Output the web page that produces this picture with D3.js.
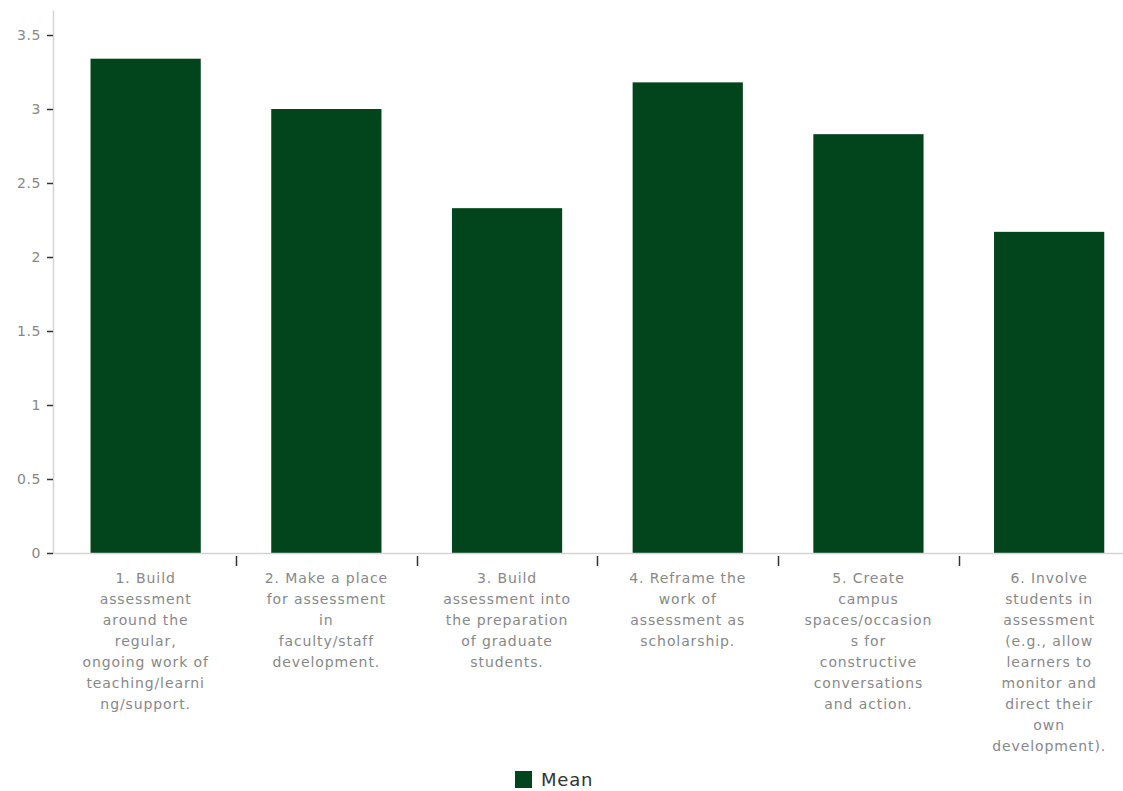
<!DOCTYPE html>
<meta charset="utf-8">
<script src="https://cdn.jsdelivr.net/npm/d3@7"></script>
<style>
  body { margin: 0; background: #fff; }
  text { font-family: "DejaVu Sans", sans-serif; }
</style>
<div id="vis"></div>
<script>
// chart values
const categories = [
  "1. Build assessment around the regular, ongoing work of teaching/learning/support.",
  "2. Make a place for assessment in faculty/staff development.",
  "3. Build assessment into the preparation of graduate students.",
  "4. Reframe the work of assessment as scholarship.",
  "5. Create campus spaces/occasions for constructive conversations and action.",
  "6. Involve students in assessment (e.g., allow learners to monitor and direct their own development)."
]
// wrapped label lines, as shown under each bar
const labelLines = [
  ["1. Build", "assessment", "around the", "regular,", "ongoing work of", "teaching/learni", "ng/support."],
  ["2. Make a place", "for assessment", "in", "faculty/staff", "development."],
  ["3. Build", "assessment into", "the preparation", "of graduate", "students."],
  ["4. Reframe the", "work of", "assessment as", "scholarship."],
  ["5. Create", "campus", "spaces/occasion", "s for", "constructive", "conversations", "and action."],
  ["6. Involve", "students in", "assessment", "(e.g., allow", "learners to", "monitor and", "direct their", "own", "development)."]
]
const meanValues = [3.34, 3.0, 2.33, 3.18, 2.83, 2.17]
const yTicks = [0, 0.5, 1, 1.5, 2, 2.5, 3, 3.5]
const seriesName = "Mean"

const W = 1123, H = 791
const margin = {top: 10, left: 53, bottom: 238}
const plotBottom = H - margin.bottom
const barColor = "#02451c"

const svg = d3.select("#vis").append("svg")
  .attr("width", W).attr("height", H)

const y = d3.scaleLinear()
  .domain([0, 3.669])
  .range([plotBottom, margin.top])

// the plot runs past the right edge of the picture
const x = d3.scaleBand()
  .domain(categories)
  .range([55.3, 1139.5])
  .padding(0)

const barW = x.bandwidth() * 0.61

// y axis
const yAxis = svg.append("g")
  .attr("transform", `translate(${margin.left},0)`)
  .call(d3.axisLeft(y).tickValues(yTicks).tickFormat(d => d).tickSize(12).tickSizeOuter(0))
yAxis.select(".domain").attr("stroke", "#d4d4d4").attr("stroke-width", 1.5)
yAxis.selectAll(".tick line").attr("stroke", "#333").attr("stroke-width", 1.5).attr("x1", -6).attr("x2", 0)
yAxis.selectAll(".tick text").attr("x", -12).attr("fill", "#888")
  .style("font-size", "14px").style("letter-spacing", "0.6px")

// bars
svg.selectAll("rect.bar")
  .data(meanValues)
  .enter().append("rect")
  .attr("class", "bar")
  .attr("x", (d, i) => x(categories[i]) + (x.bandwidth() - barW) / 2)
  .attr("y", d => y(d))
  .attr("width", barW)
  .attr("height", d => y(0) - y(d))
  .attr("fill", barColor)

// x axis line
svg.append("line")
  .attr("x1", margin.left).attr("x2", W)
  .attr("y1", plotBottom + 0.5).attr("y2", plotBottom + 0.5)
  .attr("stroke", "#d4d4d4").attr("stroke-width", 1.5)

// separators between categories
svg.selectAll("line.sep")
  .data(categories.slice(1))
  .enter().append("line")
  .attr("class", "sep")
  .attr("x1", d => Math.round(x(d)) + 0.5).attr("x2", d => Math.round(x(d)) + 0.5)
  .attr("y1", plotBottom + 3).attr("y2", plotBottom + 13)
  .attr("stroke", "#333").attr("stroke-width", 1.5)

// category labels
const labels = svg.selectAll("text.cat")
  .data(labelLines)
  .enter().append("text")
  .attr("class", "cat")
  .attr("text-anchor", "middle")
  .attr("fill", "#888")
  .style("font-size", "14px")
  .style("letter-spacing", "0.9px")
labels.selectAll("tspan")
  .data((lines, i) => lines.map(l => ({l, i})))
  .enter().append("tspan")
  .attr("x", d => x(categories[d.i]) + x.bandwidth() / 2)
  .attr("y", (d, j) => plotBottom + 30 + j * 21)
  .text(d => d.l)

// legend
const leg = svg.append("g").attr("transform", "translate(515,771)")
leg.append("rect").attr("width", 17).attr("height", 17).attr("fill", barColor)
leg.append("text").attr("x", 26).attr("y", 14.5)
  .attr("fill", "#333").style("font-size", "18px").style("letter-spacing", "0.8px").text(seriesName)
</script>
